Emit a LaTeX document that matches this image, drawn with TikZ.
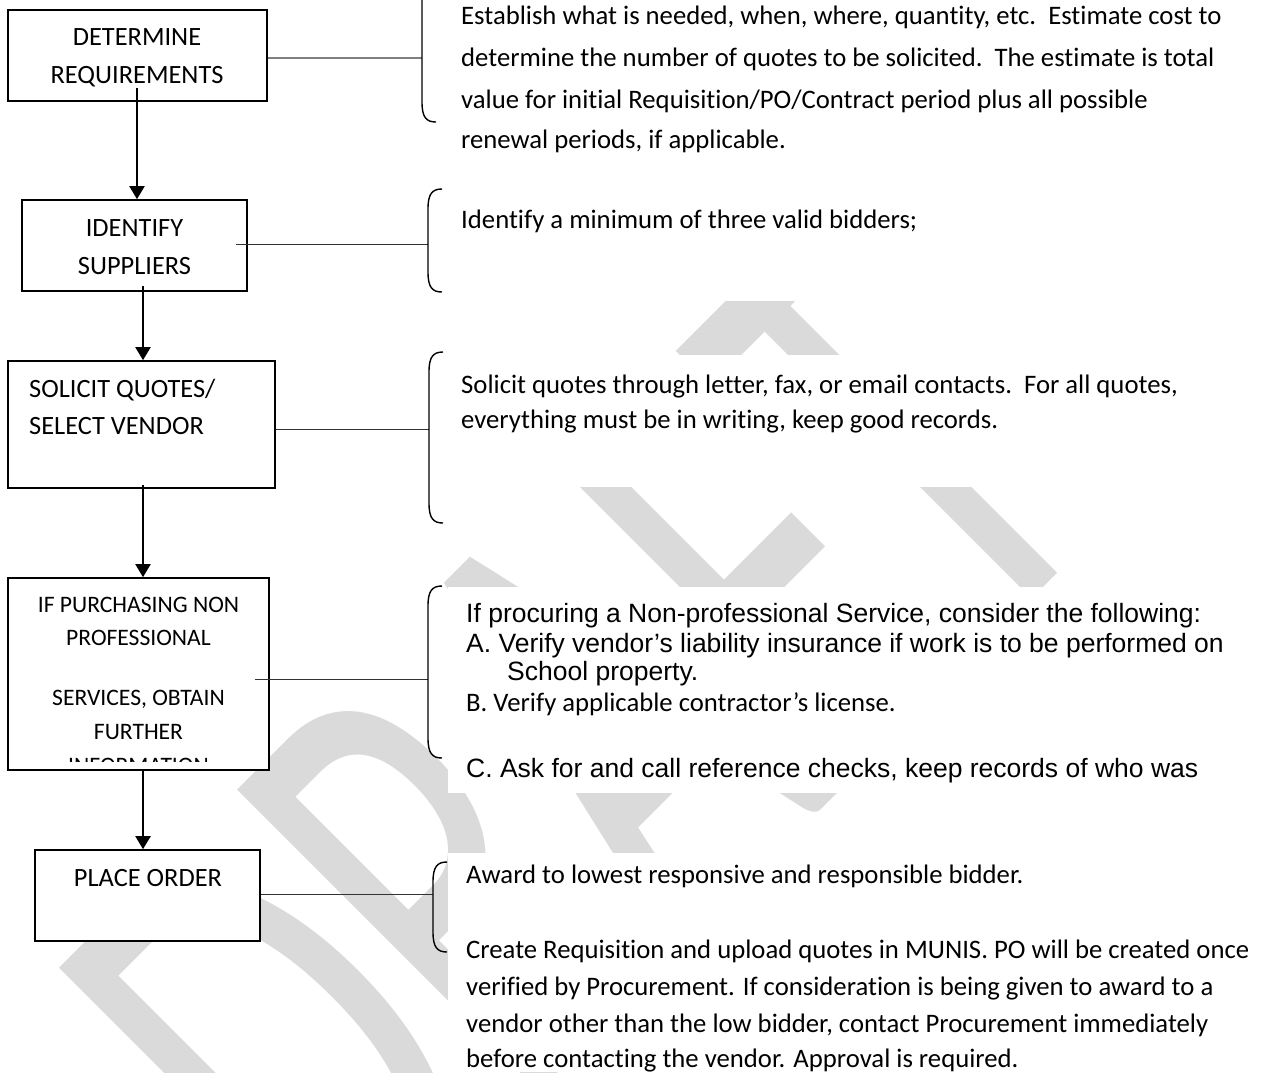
\documentclass[tikz,border=0pt]{standalone}
\usepackage{fontspec}
\setmainfont{Carlito}[Ligatures=NoCommon]
\newfontfamily\arialf{Liberation Sans}
\usetikzlibrary{arrows.meta}
\definecolor{wm}{RGB}{218,218,218}
\definecolor{lnk}{RGB}{50,50,50}
\newcommand\mybrc[3]{\draw[brc] ({#1+14},#2) .. controls ({#1+4},#2) and (#1,{#2+5}) .. (#1,{#2+20}) -- (#1,{#3-20}) .. controls (#1,{#3-5}) and ({#1+4},#3) .. ({#1+14},#3);}
\tikzset{
 fbox/.style={draw=black, line width=1.6pt, fill=white, inner sep=0pt},
 blbl/.style={font=\fontsize{26.4}{32}\selectfont, inner sep=0pt, anchor=base},
 bllft/.style={font=\fontsize{26.4}{32}\selectfont, inner sep=0pt, anchor=base west},
 slbl/.style={font=\fontsize{23.6}{30}\selectfont, inner sep=0pt, anchor=base},
 txt/.style={font=\fontsize{26.7}{32}\selectfont, inner sep=0pt, anchor=base west},
 atxt/.style={font=\arialf\fontsize{26.5}{30}\selectfont, inner sep=0pt, anchor=base west},
 arr/.style={line width=2pt, -{Triangle[length=13pt,width=15pt]}},
 conn/.style={line width=1pt, draw=lnk},
 conng/.style={line width=1.4pt, draw=gray},
 brc/.style={line width=1.4pt, draw=black},
 wmk/.style={font=\fontsize{408}{408}\selectfont, text=wm, inner sep=0pt},
}
\begin{document}
\begin{tikzpicture}[x=1pt,y=-1pt]
\useasboundingbox (0,0) rectangle (1265,1072);
\clip (0,0) rectangle (1265,1072);
\fill[white] (0,0) rectangle (1265,1072);
% watermark
\begin{scope}[shift={(341,1290)}, rotate=45, yscale=1.63]
\node[wmk, transform shape, anchor=base west] (wmark) at (0,0) {DRAFT};
\end{scope}
% white text boxes
\fill[white] (448,-5) rectangle (1250,140);
\fill[white] (448,150) rectangle (1250,301);
\fill[white] (448,355) rectangle (1250,487);
\fill[white] (448,587) rectangle (1240,793);
\fill[white] (448,853) rectangle (1265,1072);
% flowchart boxes
\node[fbox, minimum width=259pt, minimum height=91pt] (b1) at (137.5,55.5) {};
\node[fbox, minimum width=225pt, minimum height=91pt] (b2) at (134.5,245.5) {};
\node[fbox, minimum width=267pt, minimum height=127pt] (b3) at (141.5,424.5) {};
\node[fbox, minimum width=261pt, minimum height=192pt] (b4) at (138.5,674) {};
\node[fbox, minimum width=225pt, minimum height=91pt] (b5) at (147.5,895.5) {};
% box labels
\node[blbl] (b1t1) at (137,45.5) {DETERMINE};
\node[blbl] (b1t2) at (137,83.5) {REQUIREMENTS};
\node[blbl] (b2t1) at (134.5,236.5) {IDENTIFY};
\node[blbl] (b2t2) at (134.5,274.5) {SUPPLIERS};
\node[bllft] (b3t1) at (29,397.5) {SOLICIT QUOTES/};
\node[bllft] (b3t2) at (29,434.5) {SELECT VENDOR};
\node[slbl] (b4t1) at (138.5,612.5) {IF PURCHASING NON};
\node[slbl] (b4t2) at (138.5,645.5) {PROFESSIONAL};
\node[slbl] (b4t3) at (138.5,705.5) {SERVICES, OBTAIN};
\node[slbl] (b4t4) at (138.5,739.5) {FURTHER};
\begin{scope}
\clip (8,578) rectangle (269,761);
\node[slbl] (b4t5) at (138.5,773) {INFORMATION};
\end{scope}
\node[blbl] (b5t1) at (148,886.5) {PLACE ORDER};
% arrows
\coordinate (a1) at (137,88);
\coordinate (a2) at (143,286);
\coordinate (a3) at (143,485);
\coordinate (a4) at (143,770);
\draw[arr] (a1) -- (a1 |- b2.north);
\draw[arr] (a2) -- (a2 |- b3.north);
\draw[arr] (a3) -- (a3 |- b4.north);
\draw[arr] (a4) -- (a4 |- b5.north);
% connectors to braces
\coordinate (k1) at (422,58);
\coordinate (k2) at (428,244);
\coordinate (k3) at (429,429);
\coordinate (k4) at (428,679);
\coordinate (k5) at (433,894);
\coordinate (s2) at (236,244);
\coordinate (s4) at (255,679);
\draw[conng] (b1.east |- k1) -- (k1);
\draw[conn] (s2) -- (k2);
\draw[conn] (b3.east |- k3) -- (k3);
\draw[conn] (s4) -- (k4);
\draw[conn] (b5.east |- k5) -- (k5);
% braces
\mybrc{422}{-40}{122}
\mybrc{428}{189}{292}
\mybrc{429}{352}{523}
\mybrc{428}{586}{758}
\mybrc{433}{862}{952}
% right texts
\node[txt] (r1a) at (461,24) {Establish what is needed, when, where, quantity, etc.\ \ Estimate cost to};
\node[txt] (r1b) at (461,66) {determine the number of quotes to be solicited.\ \ The estimate is total};
\node[txt] (r1c) at (461,108) {value for initial Requisition/PO/Contract period plus all possible};
\node[txt] (r1d) at (461,148) {renewal periods, if applicable.};
\node[txt] (r2a) at (461,228) {Identify a minimum of three valid bidders;};
\node[txt] (r3a) at (461,393) {Solicit quotes through letter, fax, or email contacts.\ \ For all quotes,};
\node[txt] (r3b) at (461,428) {everything must be in writing, keep good records.};
\node[atxt] (r4a) at (466,622.5) {If procuring a Non-professional Service, consider the following:};
\node[atxt] (r4b) at (466,652.5) {A. Verify vendor’s liability insurance if work is to be performed on};
\node[atxt] (r4c) at (507,680.5) {School property.};
\node[txt] (r4d) at (466,711) {B. Verify applicable contractor’s license.};
\node[atxt] (r4e) at (466,777.5) {C. Ask for and call reference checks, keep records of who was};
\node[txt] (r5a) at (466,883) {Award to lowest responsive and responsible bidder.};
\node[txt] (r5b) at (466,958) {Create Requisition and upload quotes in MUNIS. PO will be created once};
\node[txt] (r5c) at (466,995) {verified by Procurement. If consideration is being given to award to a};
\node[txt] (r5d) at (466,1032) {vendor other than the low bidder, contact Procurement immediately};
\node[txt] (r5e) at (466,1067) {before contacting the vendor. Approval is required.};
\end{tikzpicture}
\end{document}
